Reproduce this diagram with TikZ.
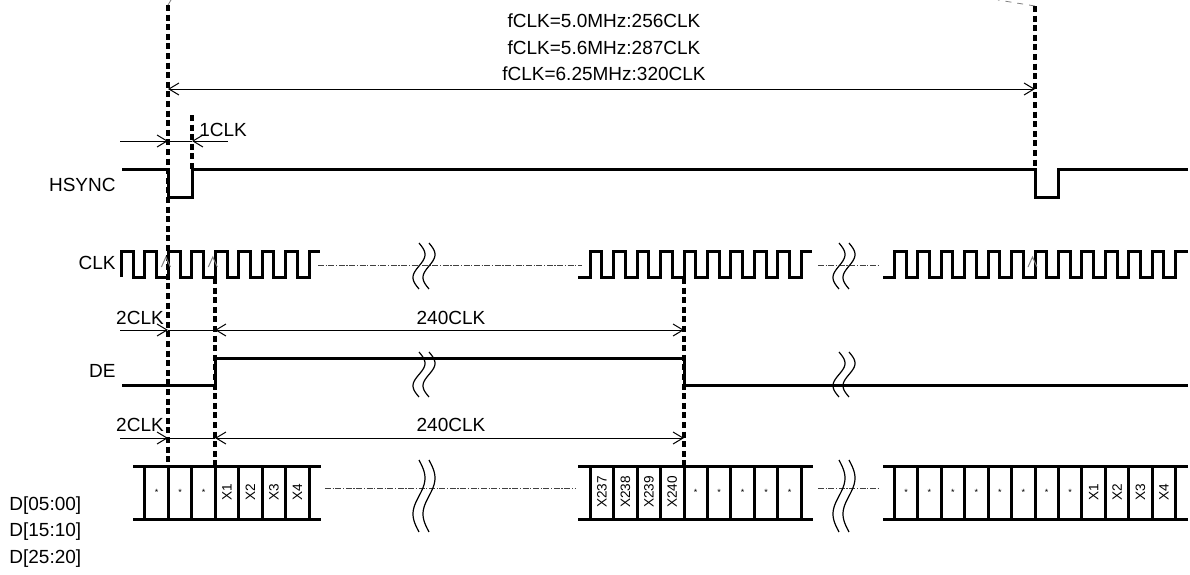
\documentclass[tikz,border=0pt]{standalone}
\usepackage{fontspec}
\setmainfont{Liberation Sans}
\usetikzlibrary{arrows.meta}
\tikzset{
  sig/.style={line width=1.5pt},
  markline/.style={line width=1.6pt, dash pattern=on 3pt off 1.8pt},
  dim/.style={line width=0.5pt, >={Straight Barb[length=5pt,width=6pt]}},
  gapline/.style={line width=0.5pt, black!75, dash pattern=on 3pt off 0.8pt on 0.6pt off 0.8pt},
  brk/.style={line width=0.6pt},
  lbl/.style={font=\fontsize{9.5}{11}\selectfont, inner sep=0pt},
  cell/.style={font=\fontsize{6.8}{8}\selectfont, rotate=90, inner sep=0pt},
  dot/.style={font=\fontsize{4.5}{5}\selectfont, inner sep=0pt},
  edgemark/.style={line width=0.5pt, gray}
}
\begin{document}
\begin{tikzpicture}[x=0.5pt,y=-0.5pt]
\useasboundingbox (0,0) rectangle (1190,574);
\def\clkP{23.45}
% signal names
\node[lbl, anchor=east] (hsync) at (116,185) {HSYNC};
\node[lbl, anchor=east] (clk)   at (116,263) {CLK};
\node[lbl, anchor=east] (de)    at (116,371) {DE};
\node[lbl, anchor=west] (dlo)   at (9,506) {D[05:00]};
\node[lbl, anchor=west] (dmid)  at (9,532) {D[15:10]};
\node[lbl, anchor=west] (dhi)   at (9,559) {D[25:20]};
%
% reference lines
\draw[gray, line width=0.4pt, dashed] (168,5) -- (171,0);
\draw[gray, line width=0.4pt, dashed] (1035,6) -- (998,0);
\draw[markline] (168,5)   -- (168,466);
\draw[markline] (192,115) -- (192,169);
\draw[markline] (215,278) -- (215,466);
\draw[markline] (684,278) -- (684,466);
\draw[markline] (1035,6)  -- (1035,169);
%
% line period
\node[lbl] (fa) at (604,21) {fCLK=5.0MHz:256CLK};
\node[lbl] (fb) at (604,48) {fCLK=5.6MHz:287CLK};
\node[lbl] (fc) at (604,74) {fCLK=6.25MHz:320CLK};
\coordinate (hl) at (168,89);
\coordinate (hr) at (1035,89);
\draw[dim,<->] (hl) -- (hr);
%
% HSYNC
\coordinate (w0) at (120,141);
\coordinate (w1) at (168,141);
\coordinate (w2) at (192,141);
\coordinate (w3) at (228,141);
\draw[dim,->] (w0) -- (w1);
\draw[dim] (w1) -- (w2);
\draw[dim,<-] (w2) -- (w3);
\node[lbl, anchor=west] (oneclk) at (199,130) {1CLK};
\draw[sig] (122,169) -- (168,169) -- (168,197) -- (192,197) -- (192,169)
  -- (1035,169) -- (1035,197) -- (1058,197) -- (1058,169) -- (1188,169);
%
% CLK
\draw[sig] (121.5,277) \foreach \i in {0,...,7} {
  -- ++(0,-26) -- ++(\clkP/2,0) -- ++(0,26) -- ++(\clkP/2,0)} -- ++(0,-26) -- (320,251);
\draw[sig] (578,277) -- (590.2,277) \foreach \i in {0,...,8} {
  -- ++(0,-26) -- ++(\clkP/2,0) -- ++(0,26) -- ++(\clkP/2,0)} -- ++(0,-26) -- (812,251);
\draw[sig] (883,277) -- (894.3,277) \foreach \i in {0,...,11} {
  -- ++(0,-26) -- ++(\clkP/2,0) -- ++(0,26) -- ++(\clkP/2,0)} -- ++(0,-26) -- (1188,251);
\foreach \cx in {168.4,215.3,1035}
  \draw[edgemark] (\cx-7,267) -- (\cx-2.5,257) -- (\cx+2,267);
\draw[gapline] (318,265) -- (582,265);
\draw[gapline] (818,265) -- (878,265);
%
% DE
\draw[sig] (122,385) -- (215,385) -- (215,358) -- (684,358) -- (684,385) -- (1188,385);
\foreach \ay/\ty in {330/318, 438/425} {
  \draw[dim,->] (120,\ay) -- (168,\ay);
  \draw[dim] (168,\ay) -- (215,\ay);
  \draw[dim,<->] (215,\ay) -- (684,\ay);
  \node[lbl] (two\ay) at (140,\ty) {2CLK};
  \node[lbl] (act\ay) at (451,\ty) {240CLK};
}
%
% data bus
\draw[sig] (133,466) -- (321,466) (133,519) -- (321,519);
\draw[sig] (578,466) -- (813,466) (578,519) -- (813,519);
\draw[sig] (883,466) -- (1188,466) (883,519) -- (1188,519);
\foreach \k in {0,...,7}  \draw[sig] ({144.95+\k*\clkP},466) -- ++(0,53);
\foreach \k in {0,...,9}  \draw[sig] ({590.2+\k*\clkP},466) -- ++(0,53);
\foreach \k in {0,...,12} \draw[sig] ({894.3+\k*\clkP},466) -- ++(0,53);
\foreach \n in {0,1,2}
  \node[dot] (pa\n) at ({144.95+(\n+0.5)*\clkP},492) {*};
\foreach \t [count=\n from 3] in {X1,X2,X3,X4}
  \node[cell] (xa\n) at ({144.95+(\n+0.5)*\clkP},492) {\t};
\foreach \t [count=\n from 0] in {X237,X238,X239,X240}
  \node[cell] (xb\n) at ({590.2+(\n+0.5)*\clkP},492) {\t};
\foreach \n in {4,...,8}
  \node[dot] (pb\n) at ({590.2+(\n+0.5)*\clkP},492) {*};
\foreach \n in {0,...,7}
  \node[dot] (pc\n) at ({894.3+(\n+0.5)*\clkP},492) {*};
\foreach \t [count=\n from 8] in {X1,X2,X3,X4}
  \node[cell] (xc\n) at ({894.3+(\n+0.5)*\clkP},492) {\t};
\draw[gapline] (325,488) -- (575,488);
\draw[gapline] (818,488) -- (878,488);
%
% breaks
\foreach \bx in {419,839}
  \foreach \by/\bh in {243/46, 352/45, 460/72}
    \foreach \dx in {0,10}
      \draw[brk] plot[domain=0:1, samples=40, smooth] ({\bx+\dx+6*sin(360*\x)}, {\by+\bh*\x});
\end{tikzpicture}
\end{document}
